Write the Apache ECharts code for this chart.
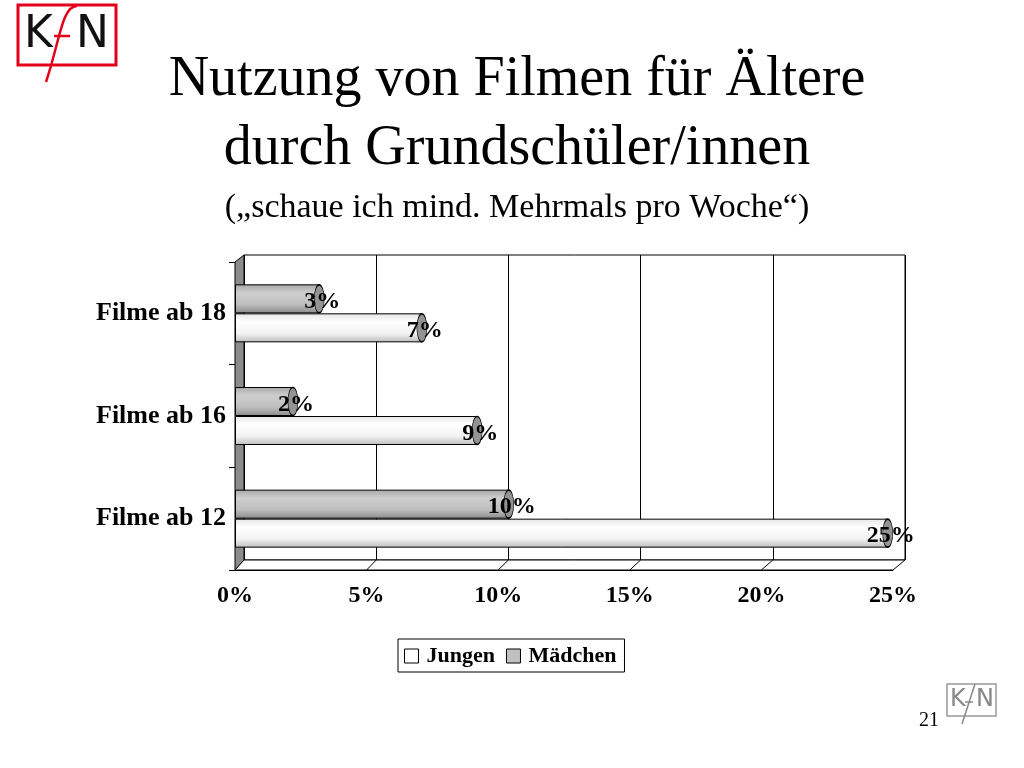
<!DOCTYPE html>
<html><head><meta charset="utf-8">
<script src="https://cdn.jsdelivr.net/npm/echarts@6/dist/echarts.min.js"></script>
<style>html,body{margin:0;padding:0;background:#fff}#c{width:1024px;height:768px}</style>
</head><body><div id="c"></div>
<script>
const categories = ["Filme ab 12", "Filme ab 16", "Filme ab 18"];
const jungen = [24.8, 9.2, 7.1];
const maedchen = [10.4, 2.2, 3.2];
const xTicks = [0, 5, 10, 15, 20, 25];
const seriesNames = ["Jungen", "Mädchen"];

const serif = '"Liberation Serif", "Times New Roman", serif';
const chart = echarts.init(document.getElementById('c'));

const gradJ = new echarts.graphic.LinearGradient(0, 0, 0, 1, [
  {offset: 0, color: '#e6e6e6'}, {offset: 0.3, color: '#ffffff'}, {offset: 0.7, color: '#f2f2f2'}, {offset: 1, color: '#bdbdbd'}]);
const gradM = new echarts.graphic.LinearGradient(0, 0, 0, 1, [
  {offset: 0, color: '#a8a8a8'}, {offset: 0.3, color: '#cfcfcf'}, {offset: 0.7, color: '#bdbdbd'}, {offset: 1, color: '#8a8a8a'}]);

const labelCfg = {
  show: true, position: 'inside', offset: [3, 3],
  formatter: p => Math.round(p.value[0]) + '%',
  fontFamily: serif, fontWeight: 'bold', fontSize: 24, color: '#000'
};

function capSeries(name, data, off) {
  return {
    name: name, type: 'scatter', xAxisIndex: 1, yAxisIndex: 1,
    data: data.map((v, i) => [v, categories[i]]),
    symbol: 'circle', symbolSize: [10, 28], symbolOffset: [0, off],
    itemStyle: {color: '#939393', borderColor: '#000', borderWidth: 1, opacity: 1},
    label: labelCfg,
    silent: true, z: 3, legendHoverLink: false
  };
}

chart.setOption({
  animation: false,
  backgroundColor: '#fff',
  title: [{
    text: 'Nutzung von Filmen für Ältere\ndurch Grundschüler/innen',
    left: 512, top: 41, textAlign: 'center',
    textStyle: {fontFamily: serif, fontWeight: 'normal', fontSize: 56, lineHeight: 69, color: '#000'}
  }, {
    text: '(„schaue ich mind. Mehrmals pro Woche“)',
    left: 512, top: 186, textAlign: 'center',
    textStyle: {fontFamily: serif, fontWeight: 'normal', fontSize: 34, color: '#000'}
  }, {
    text: '21', left: 914, top: 706,
    textStyle: {fontFamily: serif, fontWeight: 'normal', fontSize: 20, color: '#000'}
  }],
  legend: {
    left: 398, top: 639, orient: 'horizontal',
    borderColor: '#000', borderWidth: 1, padding: [6, 8, 5, 6],
    itemWidth: 14, itemHeight: 14, itemGap: 11, icon: 'rect',
    textStyle: {fontFamily: serif, fontWeight: 'bold', fontSize: 22, color: '#000', padding: [0, 0, 0, 3]},
    data: [
      {name: seriesNames[0], itemStyle: {color: '#fff', borderColor: '#000', borderWidth: 1}},
      {name: seriesNames[1], itemStyle: {color: '#c0c0c0', borderColor: '#000', borderWidth: 1}}
    ]
  },
  grid: [
    {left: 244, right: 119, top: 255, bottom: 208, show: true, borderColor: '#000', borderWidth: 1, backgroundColor: '#fff'},
    {left: 235, right: 131, top: 262, bottom: 198}
  ],
  xAxis: [{
    gridIndex: 0, type: 'value', min: 0, max: 25, interval: 5,
    axisLabel: {show: false}, axisTick: {show: false}, axisLine: {show: false},
    splitLine: {show: true, lineStyle: {color: '#000', width: 1}}
  }, {
    gridIndex: 1, type: 'value', min: 0, max: 25, interval: 5,
    axisLabel: {formatter: v => xTicks.includes(v) ? v + '%' : '', fontFamily: serif, fontWeight: 'bold', fontSize: 24, color: '#000', margin: 14},
    axisTick: {show: false},
    axisLine: {show: true, lineStyle: {color: '#000', width: 1}},
    splitLine: {show: false}
  }],
  yAxis: [{
    gridIndex: 0, type: 'category', data: categories, show: false
  }, {
    gridIndex: 1, type: 'category', data: categories,
    axisLine: {show: false},
    axisTick: {show: true, length: 6, lineStyle: {color: '#000'}},
    axisLabel: {fontFamily: serif, fontWeight: 'bold', fontSize: 26, color: '#000', margin: 9}
  }],
  series: [{
    name: seriesNames[1], type: 'bar', xAxisIndex: 1, yAxisIndex: 1, data: maedchen,
    barWidth: 29, barGap: '0%',
    itemStyle: {color: gradM, borderColor: '#000', borderWidth: 1}, z: 2
  }, {
    name: seriesNames[0], type: 'bar', xAxisIndex: 1, yAxisIndex: 1, data: jungen,
    barWidth: 29, barGap: '0%',
    itemStyle: {color: gradJ, borderColor: '#000', borderWidth: 1}, z: 2
  },
  capSeries('capM', maedchen, -14.5),
  capSeries('capJ', jungen, 14.5)
  ],
  graphic: [
    // left wall
    {type: 'polygon', shape: {points: [[235, 262], [244, 255], [244, 560], [235, 570]]}, style: {fill: '#8c8c8c', stroke: '#000', lineWidth: 1}, z: 1},
    // floor
    {type: 'polygon', shape: {points: [[235, 570], [244, 560], [905, 560], [893, 570]]}, style: {fill: '#fff', stroke: '#000', lineWidth: 1}, z: 1},
    ...[1, 2, 3, 4].map(i => ({type: 'line', shape: {x1: 235 + i * 131.6, y1: 570, x2: 244 + i * 132.2, y2: 560}, style: {stroke: '#000', lineWidth: 1}, z: 1})),
    // top-left logo
    {type: 'rect', shape: {x: 18, y: 5, width: 98, height: 60}, style: {fill: 'none', stroke: '#e3001b', lineWidth: 3}, z: 5},
    {type: 'text', left: 24, top: 14, style: {text: 'K', font: '44px "DejaVu Sans", sans-serif', fill: '#111'}, z: 6},
    {type: 'text', left: 76, top: 14, style: {text: 'N', font: '44px "DejaVu Sans", sans-serif', fill: '#111'}, z: 6},
    {type: 'bezierCurve', shape: {x1: 46, y1: 82, x2: 77, y2: 6, cpx1: 60, cpy1: 40, cpx2: 62, cpy2: 6}, style: {stroke: '#e3001b', lineWidth: 2.5, fill: 'none'}, z: 6},
    {type: 'line', shape: {x1: 54, y1: 36, x2: 70, y2: 36}, style: {stroke: '#e3001b', lineWidth: 2.5}, z: 6},
    // bottom-right logo
    {type: 'rect', shape: {x: 947, y: 684, width: 49, height: 32}, style: {fill: 'none', stroke: '#999', lineWidth: 1.5}, z: 5},
    {type: 'text', left: 950, top: 688, style: {text: 'K', font: '24px "DejaVu Sans", sans-serif', fill: '#888'}, z: 6},
    {type: 'text', left: 976, top: 688, style: {text: 'N', font: '24px "DejaVu Sans", sans-serif', fill: '#888'}, z: 6},
    {type: 'line', shape: {x1: 962, y1: 724, x2: 975, y2: 684}, style: {stroke: '#888', lineWidth: 1.5}, z: 6},
    {type: 'line', shape: {x1: 965, y1: 702, x2: 973, y2: 702}, style: {stroke: '#888', lineWidth: 1.5}, z: 6}
  ]
});
</script></body></html>
